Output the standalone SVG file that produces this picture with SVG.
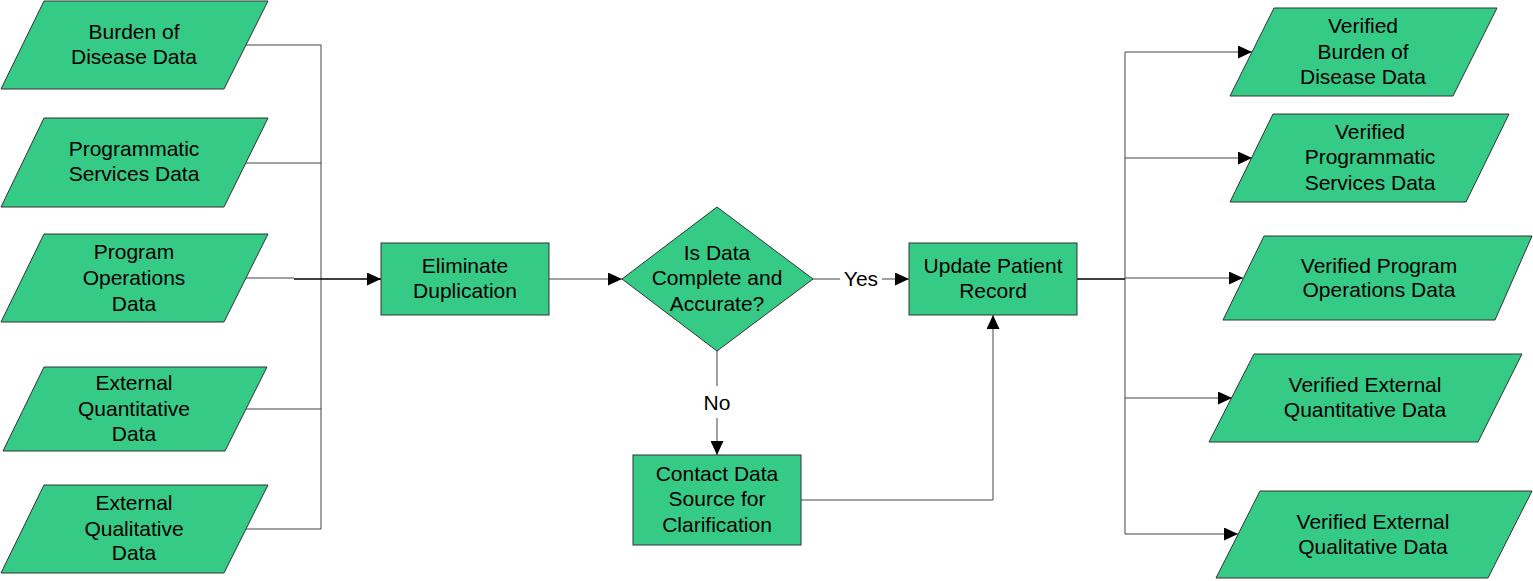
<svg xmlns="http://www.w3.org/2000/svg" width="1533" height="581" viewBox="0 0 1533 581">
<style>
.n{fill:#36CA87;stroke:#333;stroke-width:1}
.t{font-family:"Liberation Sans",Arial,sans-serif;font-size:21px;fill:#000;text-anchor:middle}
.c{fill:none;stroke:#444;stroke-width:1}
.k{fill:none;stroke:#000;stroke-width:1.5}
</style>
<defs>
<marker id="a" viewBox="0 0 14 13" refX="14" refY="6.5" markerWidth="14" markerHeight="13" markerUnits="userSpaceOnUse" orient="auto">
<path d="M0,0 L14,6.5 L0,13 Z" fill="#000"/>
</marker>
</defs>
<rect width="1533" height="581" fill="#fff"/>
<g id="connectors">
<path class="c" d="M246,45 H321 V529 H246"/>
<path class="c" d="M246,163 H321"/>
<path class="c" d="M246,409 H321"/>
<path class="c" d="M246,278 H294"/>
<path class="k" d="M294,279 H381" marker-end="url(#a)"/>
<path class="c" d="M549,279 H622" marker-end="url(#a)"/>
<path class="c" d="M813,279 H840"/>
<path class="c" d="M882,279 H909" marker-end="url(#a)"/>
<path class="c" d="M717,351 V386"/>
<path class="c" d="M717,418 V455" marker-end="url(#a)"/>
<path class="c" d="M801,500 H993 V315" marker-end="url(#a)"/>
<path class="k" d="M1077,279 H1125"/>
<path class="c" d="M1125,52 V534"/>
<path class="c" d="M1125,52 H1252" marker-end="url(#a)"/>
<path class="c" d="M1125,158 H1252" marker-end="url(#a)"/>
<path class="c" d="M1125,278 H1243" marker-end="url(#a)"/>
<path class="c" d="M1125,398 H1232" marker-end="url(#a)"/>
<path class="c" d="M1125,534 H1238" marker-end="url(#a)"/>
<text class="t" x="861" y="286">Yes</text>
<text class="t" x="717" y="410">No</text>
</g>
<g id="n1"><polygon class="n" points="44,1 268,1 224,89 1,89"/><text class="t" x="134" y="39">Burden of</text><text class="t" x="134" y="64">Disease Data</text></g>
<g id="n2"><polygon class="n" points="44,118 268,118 224,207 1,207"/><text class="t" x="134" y="156">Programmatic</text><text class="t" x="134" y="181">Services Data</text></g>
<g id="n3"><polygon class="n" points="44,234 268,234 224,322 1,322"/><text class="t" x="134" y="259">Program</text><text class="t" x="134" y="285">Operations</text><text class="t" x="134" y="311">Data</text></g>
<g id="n4"><polygon class="n" points="44,367 267,367 225,451 3,451"/><text class="t" x="134" y="390">External</text><text class="t" x="134" y="416">Quantitative</text><text class="t" x="134" y="441">Data</text></g>
<g id="n5"><polygon class="n" points="44,485 268,485 224,573 1,573"/><text class="t" x="134" y="510">External</text><text class="t" x="134" y="536">Qualitative</text><text class="t" x="134" y="560">Data</text></g>
<g id="eliminate"><rect class="n" x="381" y="243" width="168" height="72"/><text class="t" x="465" y="273">Eliminate</text><text class="t" x="465" y="298">Duplication</text></g>
<g id="decision"><polygon class="n" points="717,207 813,279 717,351 622,279"/><text class="t" x="717" y="260">Is Data</text><text class="t" x="717" y="285">Complete and</text><text class="t" x="717" y="311">Accurate?</text></g>
<g id="update"><rect class="n" x="909" y="243" width="168" height="72"/><text class="t" x="993" y="273">Update Patient</text><text class="t" x="993" y="298">Record</text></g>
<g id="contact"><rect class="n" x="633" y="455" width="168" height="90"/><text class="t" x="717" y="481">Contact Data</text><text class="t" x="717" y="506">Source for</text><text class="t" x="717" y="532">Clarification</text></g>
<g id="r1"><polygon class="n" points="1274,8 1497,8 1453,96 1230,96"/><text class="t" x="1363" y="33">Verified</text><text class="t" x="1363" y="59">Burden of</text><text class="t" x="1363" y="84">Disease Data</text></g>
<g id="r2"><polygon class="n" points="1273,114 1509,114 1466,202 1230,202"/><text class="t" x="1370" y="139">Verified</text><text class="t" x="1370" y="164">Programmatic</text><text class="t" x="1370" y="190">Services Data</text></g>
<g id="r3"><polygon class="n" points="1264,236 1532,236 1495,320 1223,320"/><text class="t" x="1379" y="273">Verified Program</text><text class="t" x="1379" y="297">Operations Data</text></g>
<g id="r4"><polygon class="n" points="1254,354 1522,354 1478,442 1209,442"/><text class="t" x="1365" y="392">Verified External</text><text class="t" x="1365" y="417">Quantitative Data</text></g>
<g id="r5"><polygon class="n" points="1260,491 1532,491 1488,578 1216,578"/><text class="t" x="1373" y="529">Verified External</text><text class="t" x="1373" y="554">Qualitative Data</text></g>
</svg>
